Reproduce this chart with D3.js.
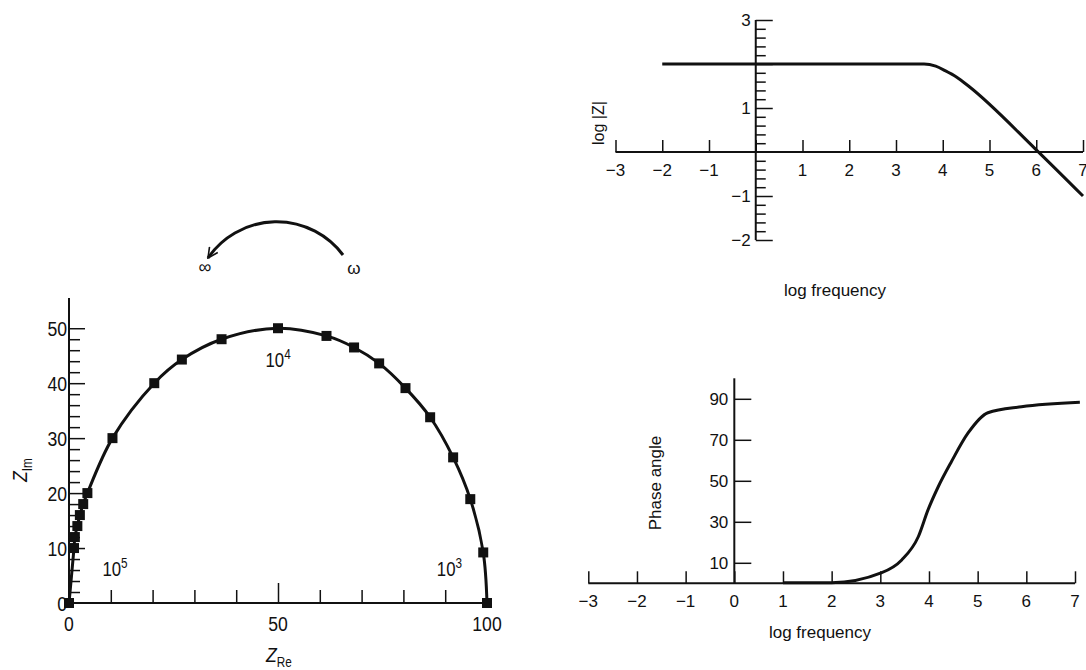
<!DOCTYPE html>
<html>
<head>
<meta charset="utf-8">
<script src="https://cdn.jsdelivr.net/npm/d3@7"></script>
<style>
  body { margin: 0; background: #fff; }
  svg { display: block; }
  .tick line { stroke: #111; stroke-width: 1.5; }
  .lbl { font-family: "Liberation Sans", Arial, sans-serif; fill: #111; }
</style>
</head>
<body>
<div id="chart"></div>
<script>
// Nyquist plot: real / imaginary parts of impedance
var zRe = [0, 1.2, 1.4, 2.0, 2.6, 3.4, 4.4, 10.4, 20.4, 27, 36.5, 50, 61.6, 68.2, 74.2, 80.5, 86.4, 91.9, 96, 99.1, 100];
var zIm = [0, 10, 12, 14, 16, 18, 20, 30, 40, 44.3, 48, 50, 48.6, 46.5, 43.6, 39.1, 33.8, 26.5, 18.9, 9.2, 0];
var nyqXLabels = [0, 50, 100];
var nyqYLabels = [0, 10, 20, 30, 40, 50];
var freqNotes = [{ re: 8, im: 5, exp: "5" }, { re: 47, im: 43, exp: "4" }, { re: 88, im: 5, exp: "3" }];

// Bode magnitude
var magLogF = [-2, 3.6, 3.85, 4.05, 4.3, 4.55, 6, 7];
var magLogZ = [2, 2, 1.95, 1.85, 1.7, 1.5, 0.05, -1];
var magXLabels = [-3, -2, -1, 1, 2, 3, 4, 5, 6, 7];
var magYLabels = [3, 1, -1, -2];

// Bode phase
var phLogF = [1, 2, 3.03, 3.44, 3.78, 3.98, 4.19, 4.46, 4.8, 5.21, 5.9, 7.1];
var phDeg = [0.3, 0.3, 5.2, 11.4, 22.7, 35.8, 47.1, 59.3, 73.2, 83.2, 86.1, 88.3];
var phXLabels = [-3, -2, -1, 0, 1, 2, 3, 4, 5, 6, 7];
var phYLabels = [10, 30, 50, 70, 90];

var W = 1086, H = 670;
var svg = d3.select("#chart").append("svg").attr("width", W).attr("height", H);

svg.append("defs").append("marker")
  .attr("id", "arrow").attr("viewBox", "0 0 12 12")
  .attr("refX", 11).attr("refY", 6)
  .attr("markerWidth", 12).attr("markerHeight", 12)
  .attr("markerUnits", "userSpaceOnUse")
  .attr("orient", "auto")
  .append("path").attr("d", "M1,1 L11,6 L1,11")
  .attr("fill", "none").attr("stroke", "#111").attr("stroke-width", 1.6);

function noDomain(g) { g.select(".domain").remove(); }
function axisLine(x1, y1, x2, y2) {
  svg.append("line").attr("x1", x1).attr("y1", y1).attr("x2", x2).attr("y2", y2)
    .attr("stroke", "#111").attr("stroke-width", 2);
}
function range(a, b, s) { return d3.range(a, b + s / 2, s).map(function (v) { return +v.toFixed(3); }); }
function minus(d) { return d < 0 ? "\u2212" + (-d) : d; }
// narrow text, like the condensed type of the Nyquist panel
function narrow(x, y) { return "translate(" + x + "," + y + ") scale(0.84,1)"; }

// ---------- Nyquist ----------
var xN = d3.scaleLinear().domain([0, 100]).range([69, 487]);
var yN = d3.scaleLinear().domain([0, 55.5]).range([603, 298]);

axisLine(xN(0), yN(0), xN(0), yN(55.5));
axisLine(xN(0), yN(0), xN(100), yN(0));

var nyMinor = range(2, 48, 2).filter(function (v) { return v % 10 != 0; });
svg.append("g").attr("transform", "translate(" + xN(0) + ",0)")
  .call(d3.axisRight(yN).tickValues(nyMinor).tickSize(11).tickFormat("")).call(noDomain);
svg.append("g").attr("transform", "translate(" + xN(0) + ",0)")
  .call(d3.axisRight(yN).tickValues([10, 20, 30, 40, 50]).tickSize(16).tickFormat("")).call(noDomain);
svg.append("g").attr("transform", "translate(0," + yN(0) + ")")
  .call(d3.axisTop(xN).tickValues([10, 20, 30, 40, 60, 70, 80, 90]).tickSize(13).tickFormat("")).call(noDomain);
svg.append("g").attr("transform", "translate(0," + yN(0) + ")")
  .call(d3.axisTop(xN).tickValues([50]).tickSize(20).tickFormat("")).call(noDomain);

svg.selectAll(".nyx").data(nyqXLabels).enter().append("text")
  .attr("class", "lbl").attr("font-size", 21).attr("text-anchor", "middle")
  .attr("transform", function (d) { return narrow(xN(d), 631); }).text(function (d) { return d; });
svg.selectAll(".nyy").data(nyqYLabels).enter().append("text")
  .attr("class", "lbl").attr("font-size", 21).attr("text-anchor", "end")
  .attr("transform", function (d) { return narrow(xN(0) - 2, yN(d) + 8); }).text(function (d) { return d; });

var notes = svg.selectAll(".note").data(freqNotes).enter().append("text")
  .attr("class", "lbl").attr("font-size", 20)
  .attr("transform", function (d) { return narrow(xN(d.re), yN(d.im)); });
notes.append("tspan").text("10");
notes.append("tspan").attr("font-size", 14).attr("dy", -8).text(function (d) { return d.exp; });

var nyLine = d3.line().x(function (d) { return xN(d[0]); }).y(function (d) { return yN(d[1]); })
  .curve(d3.curveCatmullRom.alpha(0.5));
var nyPts = zRe.map(function (v, i) { return [v, zIm[i]]; });
svg.append("path").attr("d", nyLine(nyPts)).attr("fill", "none")
  .attr("stroke", "#111").attr("stroke-width", 3);
svg.selectAll(".sq").data(nyPts).enter().append("rect")
  .attr("x", function (d) { return xN(d[0]) - 5; }).attr("y", function (d) { return yN(d[1]) - 5; })
  .attr("width", 10).attr("height", 10).attr("fill", "#111");

var zi = svg.append("text").attr("class", "lbl").attr("font-size", 21)
  .attr("transform", "translate(27,482) rotate(-90) scale(0.84,1)");
zi.append("tspan").attr("font-style", "italic").text("Z");
zi.append("tspan").attr("font-size", 14).attr("dy", 5).text("Im");
var zr = svg.append("text").attr("class", "lbl").attr("font-size", 21)
  .attr("transform", "translate(266,662) scale(0.84,1)");
zr.append("tspan").attr("font-style", "italic").text("Z");
zr.append("tspan").attr("font-size", 14).attr("dy", 5).text("Re");

// rotation arrow
svg.append("path").attr("d", "M343,255 A83,83 0 0 0 208,258")
  .attr("fill", "none").attr("stroke", "#111").attr("stroke-width", 3)
  .attr("marker-end", "url(#arrow)");
svg.append("text").attr("class", "lbl").attr("font-size", 18).attr("x", 205).attr("y", 273)
  .attr("text-anchor", "middle").text("\u221e");
svg.append("text").attr("class", "lbl").attr("font-size", 17).attr("x", 354).attr("y", 274)
  .attr("text-anchor", "middle").text("\u03c9");

// ---------- Bode magnitude ----------
var xT = d3.scaleLinear().domain([-3, 7]).range([615.5, 1083]);
var yT = d3.scaleLinear().domain([-2, 3]).range([240, 20]);

axisLine(xT(-3), yT(0), xT(7), yT(0));
axisLine(xT(0), yT(-2), xT(0), yT(3));
svg.append("g").attr("transform", "translate(0," + yT(0) + ")")
  .call(d3.axisTop(xT).tickValues(d3.range(-3, 8)).tickSize(12).tickFormat("")).call(noDomain);
var tMinor = range(-2, 3, 0.2).filter(function (v) { return Math.abs(v - Math.round(v)) > 0.01; });
svg.append("g").attr("transform", "translate(" + xT(0) + ",0)")
  .call(d3.axisRight(yT).tickValues(tMinor).tickSize(10).tickFormat("")).call(noDomain);
svg.append("g").attr("transform", "translate(" + xT(0) + ",0)")
  .call(d3.axisRight(yT).tickValues([-2, -1, 1, 2, 3]).tickSize(17).tickFormat("")).call(noDomain);

svg.selectAll(".tx").data(magXLabels).enter().append("text")
  .attr("class", "lbl").attr("font-size", 17).attr("text-anchor", "middle")
  .attr("x", function (d) { return xT(d); }).attr("y", 176).text(minus);
svg.selectAll(".ty").data(magYLabels).enter().append("text")
  .attr("class", "lbl").attr("font-size", 17).attr("text-anchor", "end")
  .attr("x", xT(0) - 5).attr("y", function (d) { return yT(d) + 6; }).text(minus);

var magLine = d3.line().x(function (d) { return xT(d); }).y(function (d, i) { return yT(magLogZ[i]); })
  .curve(d3.curveMonotoneX);
svg.append("path").attr("d", magLine(magLogF)).attr("fill", "none")
  .attr("stroke", "#111").attr("stroke-width", 3);

svg.append("text").attr("class", "lbl").attr("font-size", 16).attr("text-anchor", "middle")
  .attr("transform", "translate(604,123) rotate(-90)").text("log |Z|");
svg.append("text").attr("class", "lbl").attr("font-size", 17).attr("text-anchor", "middle")
  .attr("x", 835).attr("y", 296).text("log frequency");

// ---------- Bode phase ----------
var xB = d3.scaleLinear().domain([-3, 7]).range([588.3, 1075]);
var yB = d3.scaleLinear().domain([0, 100]).range([583.3, 378.3]);

axisLine(xB(-3), yB(0), xB(7), yB(0));
axisLine(xB(0), yB(0), xB(0), yB(100));
svg.append("g").attr("transform", "translate(0," + yB(0) + ")")
  .call(d3.axisTop(xB).tickValues(d3.range(-3, 8)).tickSize(12).tickFormat("")).call(noDomain);
svg.append("g").attr("transform", "translate(" + xB(0) + ",0)")
  .call(d3.axisRight(yB).tickValues(phYLabels).tickSize(17).tickFormat("")).call(noDomain);

svg.selectAll(".bx").data(phXLabels).enter().append("text")
  .attr("class", "lbl").attr("font-size", 17).attr("text-anchor", "middle")
  .attr("x", function (d) { return xB(d); }).attr("y", 607).text(minus);
svg.selectAll(".by").data(phYLabels).enter().append("text")
  .attr("class", "lbl").attr("font-size", 17).attr("text-anchor", "end")
  .attr("x", xB(0) - 6).attr("y", function (d) { return yB(d) + 6; })
  .text(function (d) { return d; });

var phLine = d3.line().x(function (d) { return xB(d); }).y(function (d, i) { return yB(phDeg[i]); })
  .curve(d3.curveMonotoneX);
svg.append("path").attr("d", phLine(phLogF)).attr("fill", "none")
  .attr("stroke", "#111").attr("stroke-width", 3);

svg.append("text").attr("class", "lbl").attr("font-size", 17).attr("text-anchor", "middle")
  .attr("transform", "translate(661,483) rotate(-90)").text("Phase angle");
svg.append("text").attr("class", "lbl").attr("font-size", 17).attr("text-anchor", "middle")
  .attr("x", 820).attr("y", 638).text("log frequency");
</script>
</body>
</html>
